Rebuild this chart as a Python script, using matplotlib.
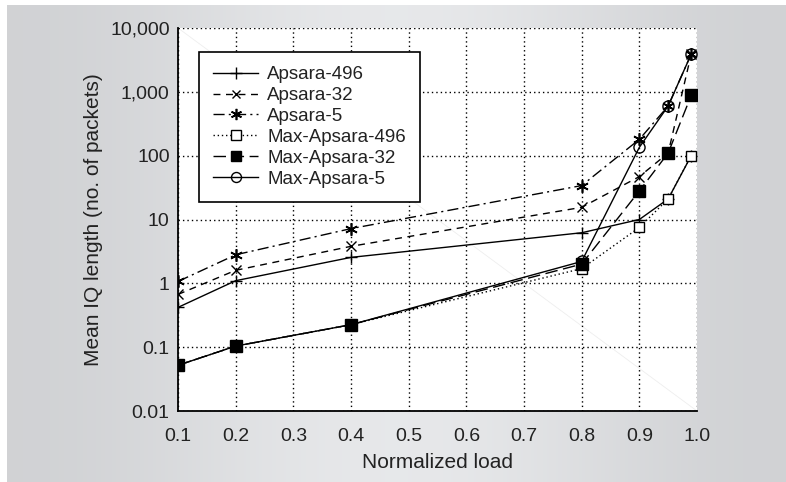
import numpy as np
import matplotlib
matplotlib.use("Agg")
import matplotlib.pyplot as plt
from matplotlib.ticker import FixedLocator, FixedFormatter, NullLocator

plt.rcParams['font.family'] = ['Liberation Sans', 'DejaVu Sans']

# ---- data ----
load = [0.1, 0.2, 0.4, 0.8, 0.9, 0.95, 0.99]
apsara_496 = [0.42, 1.1, 2.55, 6.2, 10, 21, 100]
apsara_32 = [0.67, 1.6, 3.8, 15.5, 47, 110, 3900]
apsara_5 = [1.07, 2.8, 7.2, 34, 180, 600, 3900]
max_apsara_496 = [0.052, 0.104, 0.225, 1.7, 7.5, 21, 100]
max_apsara_32 = [0.052, 0.104, 0.225, 2.0, 28, 110, 880]
max_apsara_5 = [0.052, 0.104, 0.225, 2.2, 135, 600, 3900]

x_ticks = [0.1, 0.2, 0.3, 0.4, 0.5, 0.6, 0.7, 0.8, 0.9, 1.0]
x_tick_labels = ["0.1", "0.2", "0.3", "0.4", "0.5", "0.6", "0.7", "0.8", "0.9", "1.0"]
y_ticks = [0.01, 0.1, 1, 10, 100, 1000, 10000]
y_tick_labels = ["0.01", "0.1", "1", "10", "100", "1,000", "10,000"]

W, H = 786, 482
fig = plt.figure(figsize=(W / 100, H / 100), dpi=100)
fig.patch.set_facecolor('white')

# background gradient panel
bg = fig.add_axes([7 / W, 0, 1 - 7 / W, 1 - 5 / H], zorder=-10)
xs = np.linspace(0, 1, 400)
prof = 0.5 - 0.5 * np.cos(2 * np.pi * xs)
dark = np.array([0.820, 0.825, 0.835])
light = np.array([0.905, 0.910, 0.918])
cols = dark[None, :] + (light - dark)[None, :] * prof[:, None]
img = np.repeat(cols[None, :, :], 2, axis=0)
bg.imshow(img, aspect='auto', extent=[0, 1, 0, 1])
bg.set_axis_off()

ax = fig.add_axes([178 / W, 1 - 411 / H, (697 - 178) / W, (411 - 28) / H])
ax.set_facecolor('white')
ax.set_yscale('log')
ax.set_xlim(0.1, 1.0)
ax.set_ylim(0.01, 10000)

# faint diagonal artifact
ax.plot([0, 1], [1, 0], transform=ax.transAxes, color='#eeeeee', lw=0.6, zorder=0.5)

lw = 1.0
ax.plot(load, apsara_496, color='black', lw=lw, ls='-', marker='+', ms=9, mew=1.0,
        label='Apsara-496', zorder=3)
ax.plot(load, apsara_32, color='black', lw=lw, ls=(0, (5, 4)), marker='x', ms=7, mew=1.0,
        label='Apsara-32', zorder=3)
ax.plot(load, apsara_5, color='black', lw=lw, ls=(0, (8, 3, 1.5, 3)), marker=(6, 2, 0), ms=9, mew=1.2,
        label='Apsara-5', zorder=3)
ax.plot(load, max_apsara_496, color='black', lw=lw, ls=(0, (1, 2)), marker='s', ms=7.5, mew=1.0,
        mfc='white', mec='black', label='Max-Apsara-496', zorder=3)
ax.plot(load, max_apsara_32, color='black', lw=lw, ls=(0, (9, 4)), marker='s', ms=8.5, mew=1.0,
        mfc='black', mec='black', label='Max-Apsara-32', zorder=3)
ax.plot(load, max_apsara_5, color='black', lw=lw, ls='-', marker='o', ms=8, mew=1.0,
        mfc='none', mec='black', label='Max-Apsara-5', zorder=3)

ax.xaxis.set_major_locator(FixedLocator(x_ticks))
ax.xaxis.set_major_formatter(FixedFormatter(x_tick_labels))
ax.yaxis.set_major_locator(FixedLocator(y_ticks))
ax.yaxis.set_major_formatter(FixedFormatter(y_tick_labels))
ax.yaxis.set_minor_locator(NullLocator())
ax.xaxis.set_minor_locator(NullLocator())
ax.tick_params(axis='both', length=0, labelsize=14, colors='#222222')
ax.tick_params(axis='x', pad=12)
ax.tick_params(axis='y', pad=6)

ax.grid(True, which='major', color='black', ls=(0, (1, 2.2)), lw=1.0, zorder=1)
ax.set_axisbelow(True)
for s in ['top', 'right']:
    ax.spines[s].set_visible(False)
for s in ['left', 'bottom']:
    ax.spines[s].set_linewidth(1.3)
    ax.spines[s].set_color('black')

ax.set_xlabel('Normalized load', fontsize=15, color='#222222', labelpad=6)
ax.set_ylabel('Mean IQ length (no. of packets)', fontsize=15, color='#222222', labelpad=5)

leg = ax.legend(loc='upper left', bbox_to_anchor=((199 - 178) / (697 - 178), 1 - (52 - 28) / (411 - 28)),
                borderaxespad=0, fontsize=13.5, handlelength=2.4, handletextpad=0.5,
                labelspacing=0.2, borderpad=0.75, fancybox=False, framealpha=1,
                edgecolor='black', markerscale=0.9)
leg.get_frame().set_linewidth(1.2)
for t in leg.get_texts():
    t.set_color('#222222')

fig.savefig('out.png', dpi=100)
